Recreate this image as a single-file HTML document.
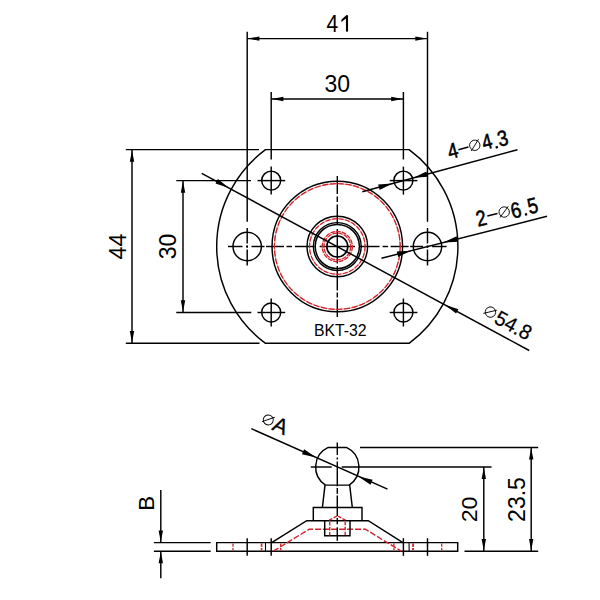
<!DOCTYPE html>
<html><head><meta charset="utf-8"><style>
html,body{margin:0;padding:0;background:#fff;width:600px;height:600px;overflow:hidden}
svg{display:block}
</style></head><body>
<svg width="600" height="600" viewBox="0 0 600 600">
<rect width="600" height="600" fill="#fff"/>
<path d="M265.50,149.6 L409.10,149.6 A120.6,120.6 0 0 1 409.37,343.2 L265.23,343.2 A120.6,120.6 0 0 1 265.50,149.6 Z" fill="none" stroke="#000" stroke-width="1.45"/>
<circle cx="271.20" cy="180.60" r="9.50" fill="none" stroke="#000" stroke-width="1.45"/>
<line x1="257.50" y1="180.60" x2="285.20" y2="180.60" stroke="#000" stroke-width="1.45"/>
<line x1="271.20" y1="166.60" x2="271.20" y2="194.60" stroke="#000" stroke-width="1.45"/>
<circle cx="271.20" cy="312.50" r="9.50" fill="none" stroke="#000" stroke-width="1.45"/>
<line x1="257.50" y1="312.50" x2="285.20" y2="312.50" stroke="#000" stroke-width="1.45"/>
<line x1="271.20" y1="298.50" x2="271.20" y2="326.50" stroke="#000" stroke-width="1.45"/>
<circle cx="403.40" cy="180.60" r="9.50" fill="none" stroke="#000" stroke-width="1.45"/>
<line x1="389.70" y1="180.60" x2="417.40" y2="180.60" stroke="#000" stroke-width="1.45"/>
<line x1="403.40" y1="166.60" x2="403.40" y2="194.60" stroke="#000" stroke-width="1.45"/>
<circle cx="403.40" cy="312.50" r="9.50" fill="none" stroke="#000" stroke-width="1.45"/>
<line x1="389.70" y1="312.50" x2="417.40" y2="312.50" stroke="#000" stroke-width="1.45"/>
<line x1="403.40" y1="298.50" x2="403.40" y2="326.50" stroke="#000" stroke-width="1.45"/>
<circle cx="247.20" cy="246.50" r="14.20" fill="none" stroke="#000" stroke-width="1.45"/>
<circle cx="427.50" cy="246.50" r="14.20" fill="none" stroke="#000" stroke-width="1.45"/>
<line x1="247.20" y1="31.80" x2="247.20" y2="221.80" stroke="#000" stroke-width="1.45"/>
<line x1="427.50" y1="31.80" x2="427.50" y2="221.80" stroke="#000" stroke-width="1.45"/>
<line x1="247.20" y1="38.60" x2="427.50" y2="38.60" stroke="#000" stroke-width="1.45"/>
<polygon points="247.90,38.60 259.40,40.80 259.40,36.40" fill="#000"/>
<polygon points="426.80,38.60 415.30,36.40 415.30,40.80" fill="#000"/>
<text transform="translate(326.60,31.60) rotate(0) translate(0.00,0.00) scale(0.9,1)" font-family="Liberation Sans" font-size="23.3" text-anchor="start" fill="#000">4</text>
<line x1="347.00" y1="15.40" x2="347.00" y2="31.60" stroke="#000" stroke-width="2.1"/>
<polygon points="348.05,15.40 345.95,15.40 341.40,19.80 341.40,22.00 345.95,18.60" fill="#000"/>
<line x1="271.20" y1="92.00" x2="271.20" y2="159.50" stroke="#000" stroke-width="1.45"/>
<line x1="403.40" y1="92.00" x2="403.40" y2="159.50" stroke="#000" stroke-width="1.45"/>
<line x1="271.20" y1="99.00" x2="403.40" y2="99.00" stroke="#000" stroke-width="1.45"/>
<polygon points="271.90,99.00 283.40,101.20 283.40,96.80" fill="#000"/>
<polygon points="402.70,99.00 391.20,96.80 391.20,101.20" fill="#000"/>
<text transform="translate(337.30,92.20) rotate(0)" font-family="Liberation Sans" font-size="23" text-anchor="middle" fill="#000">30</text>
<line x1="125.80" y1="149.60" x2="259.00" y2="149.60" stroke="#000" stroke-width="1.45"/>
<line x1="125.80" y1="343.20" x2="259.50" y2="343.20" stroke="#000" stroke-width="1.45"/>
<line x1="132.00" y1="149.60" x2="132.00" y2="343.20" stroke="#000" stroke-width="1.45"/>
<polygon points="132.00,150.30 129.80,161.80 134.20,161.80" fill="#000"/>
<polygon points="132.00,342.50 134.20,331.00 129.80,331.00" fill="#000"/>
<text transform="translate(125.80,246.50) rotate(-90)" font-family="Liberation Sans" font-size="23.5" text-anchor="middle" fill="#000">44</text>
<line x1="176.30" y1="180.60" x2="251.00" y2="180.60" stroke="#000" stroke-width="1.45"/>
<line x1="176.30" y1="312.50" x2="251.30" y2="312.50" stroke="#000" stroke-width="1.45"/>
<line x1="183.00" y1="180.60" x2="183.00" y2="312.50" stroke="#000" stroke-width="1.45"/>
<polygon points="183.00,181.30 180.80,192.80 185.20,192.80" fill="#000"/>
<polygon points="183.00,311.80 185.20,300.30 180.80,300.30" fill="#000"/>
<text transform="translate(176.10,246.50) rotate(-90)" font-family="Liberation Sans" font-size="23" text-anchor="middle" fill="#000">30</text>
<line x1="247.20" y1="228.00" x2="247.20" y2="243.50" stroke="#000" stroke-width="1.45"/>
<line x1="247.20" y1="245.50" x2="247.20" y2="247.80" stroke="#000" stroke-width="1.45"/>
<line x1="247.20" y1="249.50" x2="247.20" y2="265.50" stroke="#000" stroke-width="1.45"/>
<line x1="427.50" y1="228.00" x2="427.50" y2="243.50" stroke="#000" stroke-width="1.45"/>
<line x1="427.50" y1="245.50" x2="427.50" y2="247.80" stroke="#000" stroke-width="1.45"/>
<line x1="427.50" y1="249.50" x2="427.50" y2="265.50" stroke="#000" stroke-width="1.45"/>
<line x1="228.00" y1="246.50" x2="242.50" y2="246.50" stroke="#000" stroke-width="1.45"/>
<line x1="432.10" y1="246.50" x2="446.60" y2="246.50" stroke="#000" stroke-width="1.45"/>
<line x1="246.00" y1="246.50" x2="248.00" y2="246.50" stroke="#000" stroke-width="1.45"/>
<line x1="426.60" y1="246.50" x2="428.60" y2="246.50" stroke="#000" stroke-width="1.45"/>
<line x1="251.50" y1="246.50" x2="264.50" y2="246.50" stroke="#000" stroke-width="1.45"/>
<line x1="410.10" y1="246.50" x2="423.10" y2="246.50" stroke="#000" stroke-width="1.45"/>
<line x1="266.00" y1="246.50" x2="284.00" y2="246.50" stroke="#000" stroke-width="1.45"/>
<line x1="390.60" y1="246.50" x2="408.60" y2="246.50" stroke="#000" stroke-width="1.45"/>
<line x1="286.50" y1="246.50" x2="292.00" y2="246.50" stroke="#000" stroke-width="1.45"/>
<line x1="382.60" y1="246.50" x2="388.10" y2="246.50" stroke="#000" stroke-width="1.45"/>
<line x1="295.00" y1="246.50" x2="314.60" y2="246.50" stroke="#000" stroke-width="1.45"/>
<line x1="360.00" y1="246.50" x2="379.60" y2="246.50" stroke="#000" stroke-width="1.45"/>
<line x1="319.60" y1="246.50" x2="337.30" y2="246.50" stroke="#000" stroke-width="1.45"/>
<line x1="337.30" y1="246.50" x2="355.00" y2="246.50" stroke="#000" stroke-width="1.45"/>
<line x1="337.30" y1="176.00" x2="337.30" y2="194.00" stroke="#000" stroke-width="1.45"/>
<line x1="337.30" y1="196.50" x2="337.30" y2="202.00" stroke="#000" stroke-width="1.45"/>
<line x1="337.30" y1="204.50" x2="337.30" y2="225.00" stroke="#000" stroke-width="1.45"/>
<line x1="337.30" y1="229.00" x2="337.30" y2="263.50" stroke="#000" stroke-width="1.45"/>
<line x1="337.30" y1="266.00" x2="337.30" y2="290.50" stroke="#000" stroke-width="1.45"/>
<line x1="337.30" y1="292.50" x2="337.30" y2="297.50" stroke="#000" stroke-width="1.45"/>
<line x1="337.30" y1="299.50" x2="337.30" y2="317.00" stroke="#000" stroke-width="1.45"/>
<circle cx="337.30" cy="246.50" r="65.25" fill="none" stroke="#000" stroke-width="1.45"/>
<circle cx="337.30" cy="246.50" r="62.90" fill="none" stroke="#d02228" stroke-width="1.0" opacity="0.5"/>
<circle cx="337.30" cy="246.50" r="62.90" fill="none" stroke="#d02228" stroke-width="1.3" stroke-dasharray="6,1.8"/>
<circle cx="337.30" cy="246.50" r="30.30" fill="none" stroke="#000" stroke-width="1.45"/>
<circle cx="337.30" cy="246.50" r="27.80" fill="none" stroke="#d02228" stroke-width="0.9" opacity="0.55"/>
<circle cx="337.30" cy="246.50" r="27.80" fill="none" stroke="#d02228" stroke-width="1.2" stroke-dasharray="5,1.6"/>
<circle cx="337.30" cy="246.50" r="23.90" fill="none" stroke="#000" stroke-width="1.45"/>
<circle cx="337.30" cy="246.50" r="22.10" fill="none" stroke="#000" stroke-width="1.45"/>
<circle cx="337.30" cy="246.50" r="15.10" fill="none" stroke="#d02228" stroke-width="0.8" opacity="0.45"/>
<circle cx="337.30" cy="246.50" r="13.40" fill="none" stroke="#d02228" stroke-width="0.8" opacity="0.45"/>
<circle cx="337.30" cy="246.50" r="15.10" fill="none" stroke="#d02228" stroke-width="1.25" stroke-dasharray="4.5,1.3"/>
<circle cx="337.30" cy="246.50" r="13.40" fill="none" stroke="#d02228" stroke-width="1.25" stroke-dasharray="4.5,1.3"/>
<circle cx="337.30" cy="246.50" r="10.50" fill="none" stroke="#000" stroke-width="1.6"/>
<line x1="201.70" y1="173.30" x2="529.20" y2="350.50" stroke="#000" stroke-width="1.45"/>
<polygon points="229.03,187.92 217.91,179.06 215.53,183.46" fill="#000"/>
<polygon points="444.95,304.75 456.08,313.61 458.46,309.21" fill="#000"/>
<text transform="translate(494.00,322.60) rotate(28.6) translate(-0.90,0.30) scale(0.95,1)" font-family="Liberation Sans" font-size="20.8" text-anchor="start" fill="#000" stroke="#000" stroke-width="0.25">54.8</text>
<g transform="translate(494.00,322.60) rotate(28.6)"><circle cx="-8.14" cy="-7.52" r="5.2" fill="none" stroke="#000" stroke-width="0.85"/><line x1="-13.8" y1="-2.96" x2="-3.43" y2="-12.25" stroke="#000" stroke-width="0.85"/></g>
<line x1="362.30" y1="191.70" x2="517.50" y2="149.70" stroke="#000" stroke-width="1.45"/>
<polygon points="392.40,183.55 378.15,184.51 379.62,189.91" fill="#000"/>
<polygon points="413.60,177.82 427.85,176.86 426.38,171.46" fill="#000"/>
<text transform="translate(451.20,158.50) rotate(-15.1) translate(-1.60,0.30) scale(0.85,1)" font-family="Liberation Sans" font-size="21.6" text-anchor="start" fill="#000" stroke="#000" stroke-width="0.55">4</text>
<text transform="translate(451.20,158.50) rotate(-15.1) translate(34.00,0.30) scale(0.85,1)" font-family="Liberation Sans" font-size="21.3" text-anchor="start" fill="#000" stroke="#000" stroke-width="0.55">4</text>
<text transform="translate(451.20,158.50) rotate(-14.0) translate(49.70,0.30) scale(0.85,1)" font-family="Liberation Sans" font-size="21.8" text-anchor="start" fill="#000" stroke="#000" stroke-width="0.55">3</text>
<g transform="translate(451.20,158.50) rotate(-15.1)"><line x1="9.2" y1="-6.6" x2="19.6" y2="-6.6" stroke="#000" stroke-width="1.5"/></g>
<g transform="translate(451.20,158.50) rotate(-15.1)"><circle cx="26.2" cy="-6.6" r="5.2" fill="none" stroke="#000" stroke-width="0.85"/><line x1="21.3" y1="-2.0" x2="31.4" y2="-11.5" stroke="#000" stroke-width="0.85"/></g>
<g transform="translate(451.2,158.5) rotate(-15.1)"><rect x="45.8" y="-0.15" width="2.3" height="2.3" fill="#000"/></g>
<line x1="381.50" y1="258.20" x2="547.00" y2="216.30" stroke="#000" stroke-width="1.45"/>
<polygon points="411.00,250.73 396.74,251.45 398.12,256.88" fill="#000"/>
<polygon points="443.30,242.55 458.07,241.81 456.64,236.18" fill="#000"/>
<text transform="translate(479.60,226.00) rotate(-13.6) translate(-1.60,0.30) scale(0.83,1)" font-family="Liberation Sans" font-size="22" text-anchor="start" fill="#000" stroke="#000" stroke-width="0.55">2</text>
<text transform="translate(479.60,226.00) rotate(-13.6) translate(33.90,0.80) scale(0.83,1)" font-family="Liberation Sans" font-size="22" text-anchor="start" fill="#000" stroke="#000" stroke-width="0.55">6</text>
<text transform="translate(479.60,226.00) rotate(-13.6) translate(51.30,0.30) scale(0.83,1)" font-family="Liberation Sans" font-size="22" text-anchor="start" fill="#000" stroke="#000" stroke-width="0.55">5</text>
<g transform="translate(479.60,226.00) rotate(-13.6)"><line x1="9.85" y1="-7.9" x2="20.3" y2="-7.9" stroke="#000" stroke-width="1.5"/></g>
<g transform="translate(479.60,226.00) rotate(-13.6)"><circle cx="27.2" cy="-7.8" r="5.2" fill="none" stroke="#000" stroke-width="0.85"/><line x1="21.8" y1="-3.4" x2="32.5" y2="-12.4" stroke="#000" stroke-width="0.85"/></g>
<g transform="translate(479.6,226.0) rotate(-13.6)"><rect x="46.7" y="-1.5" width="2.3" height="2.3" fill="#000"/></g>
<text transform="translate(340.30,335.80) rotate(0)" font-family="Liberation Sans" font-size="15.8" text-anchor="middle" fill="#000">BKT-32</text>
<path d="M216.7,542.6 L457.7,542.6 L457.7,551.2 L216.7,551.2 Z" fill="none" stroke="#000" stroke-width="1.45"/>
<line x1="153.90" y1="542.60" x2="210.70" y2="542.60" stroke="#000" stroke-width="1.45"/>
<line x1="153.90" y1="551.20" x2="210.70" y2="551.20" stroke="#000" stroke-width="1.45"/>
<line x1="160.80" y1="490.00" x2="160.80" y2="542.60" stroke="#000" stroke-width="1.45"/>
<line x1="160.80" y1="551.20" x2="160.80" y2="578.20" stroke="#000" stroke-width="1.45"/>
<polygon points="160.80,542.10 163.00,530.60 158.60,530.60" fill="#000"/>
<polygon points="160.80,551.70 158.60,563.20 163.00,563.20" fill="#000"/>
<text transform="translate(154.20,503.40) rotate(-90)" font-family="Liberation Sans" font-size="22.3" text-anchor="middle" fill="#000">B</text>
<line x1="247.20" y1="538.20" x2="247.20" y2="555.80" stroke="#000" stroke-width="1.45"/>
<line x1="271.20" y1="538.20" x2="271.20" y2="555.80" stroke="#000" stroke-width="1.45"/>
<line x1="403.40" y1="538.20" x2="403.40" y2="555.80" stroke="#000" stroke-width="1.45"/>
<line x1="427.50" y1="538.20" x2="427.50" y2="555.80" stroke="#000" stroke-width="1.45"/>
<line x1="265.50" y1="542.60" x2="265.50" y2="551.20" stroke="#000" stroke-width="1.1"/>
<line x1="409.10" y1="542.60" x2="409.10" y2="551.20" stroke="#000" stroke-width="1.1"/>
<line x1="233.00" y1="543.60" x2="233.00" y2="550.20" stroke="#d02228" stroke-width="1.3" stroke-dasharray="3.2,1.2"/>
<line x1="261.40" y1="543.60" x2="261.40" y2="550.20" stroke="#d02228" stroke-width="1.3" stroke-dasharray="3.2,1.2"/>
<line x1="261.70" y1="543.60" x2="261.70" y2="550.20" stroke="#d02228" stroke-width="1.3" stroke-dasharray="3.2,1.2"/>
<line x1="280.70" y1="543.60" x2="280.70" y2="550.20" stroke="#d02228" stroke-width="1.3" stroke-dasharray="3.2,1.2"/>
<line x1="393.90" y1="543.60" x2="393.90" y2="550.20" stroke="#d02228" stroke-width="1.3" stroke-dasharray="3.2,1.2"/>
<line x1="412.90" y1="543.60" x2="412.90" y2="550.20" stroke="#d02228" stroke-width="1.3" stroke-dasharray="3.2,1.2"/>
<line x1="413.30" y1="543.60" x2="413.30" y2="550.20" stroke="#d02228" stroke-width="1.3" stroke-dasharray="3.2,1.2"/>
<line x1="441.70" y1="543.60" x2="441.70" y2="550.20" stroke="#d02228" stroke-width="1.3" stroke-dasharray="3.2,1.2"/>
<path d="M271.7,542.6 L306.7,520.7 L368.3,520.7 L402.9,542.6" fill="none" stroke="#000" stroke-width="1.45"/>
<path d="M273.3,551.2 L309.2,529.2 L365.4,529.2 L401.3,551.2" fill="none" stroke="#d02228" stroke-width="1.4" stroke-dasharray="6,2"/>
<path d="M313.3,520.7 L313.3,507.4 L362,507.4 L362,520.7" fill="none" stroke="#000" stroke-width="1.45"/>
<path d="M324.7,520.7 L324.7,535.8 L350,535.8 L350,520.7" fill="none" stroke="#000" stroke-width="1.45"/>
<path d="M329.7,535.5 L329.7,520 L337.4,515.8 L345.2,520 L345.2,535.5" fill="none" stroke="#d02228" stroke-width="1.4" stroke-dasharray="3.5,1.5"/>
<path d="M325,485.1 L322.4,507.4 M349.7,485.1 L352.3,507.4" fill="none" stroke="#000" stroke-width="1.45"/>
<path d="M328.22,447.4 L346.38,447.4 A21.6,21.6 0 0 1 349.09,485.1 L325.51,485.1 A21.6,21.6 0 0 1 328.22,447.4 Z" fill="none" stroke="#000" stroke-width="1.45"/>
<line x1="337.30" y1="442.50" x2="337.30" y2="455.00" stroke="#000" stroke-width="1.45"/>
<line x1="337.30" y1="457.50" x2="337.30" y2="459.50" stroke="#000" stroke-width="1.45"/>
<line x1="337.30" y1="461.50" x2="337.30" y2="486.30" stroke="#000" stroke-width="1.45"/>
<line x1="337.30" y1="488.00" x2="337.30" y2="493.80" stroke="#000" stroke-width="1.45"/>
<line x1="337.30" y1="495.50" x2="337.30" y2="516.00" stroke="#000" stroke-width="1.45"/>
<line x1="337.30" y1="518.00" x2="337.30" y2="524.30" stroke="#000" stroke-width="1.45"/>
<line x1="337.30" y1="527.30" x2="337.30" y2="540.80" stroke="#000" stroke-width="1.45"/>
<line x1="310.80" y1="467.00" x2="331.70" y2="467.00" stroke="#000" stroke-width="1.45"/>
<line x1="341.70" y1="467.00" x2="491.50" y2="467.00" stroke="#000" stroke-width="1.45"/>
<line x1="360.00" y1="447.40" x2="538.20" y2="447.40" stroke="#000" stroke-width="1.45"/>
<line x1="464.50" y1="551.20" x2="538.20" y2="551.20" stroke="#000" stroke-width="1.45"/>
<line x1="483.80" y1="467.00" x2="483.80" y2="551.20" stroke="#000" stroke-width="1.45"/>
<polygon points="483.80,467.60 481.60,479.10 486.00,479.10" fill="#000"/>
<polygon points="483.80,550.60 486.00,539.10 481.60,539.10" fill="#000"/>
<text transform="translate(476.80,509.40) rotate(-90) scale(1.03,1)" font-family="Liberation Sans" font-size="22.6" text-anchor="middle" fill="#000">20</text>
<line x1="531.20" y1="447.40" x2="531.20" y2="551.20" stroke="#000" stroke-width="1.45"/>
<polygon points="531.20,448.00 529.00,459.50 533.40,459.50" fill="#000"/>
<polygon points="531.20,550.60 533.40,539.10 529.00,539.10" fill="#000"/>
<text transform="translate(524.90,499.50) rotate(-90)" font-family="Liberation Sans" font-size="23" text-anchor="middle" fill="#000">23.5</text>
<line x1="251.30" y1="428.70" x2="387.50" y2="489.20" stroke="#000" stroke-width="1.45"/>
<polygon points="316.19,457.62 304.13,449.31 301.93,454.24" fill="#000"/>
<polygon points="358.41,476.38 370.47,484.69 372.67,479.76" fill="#000"/>
<text transform="translate(271.80,429.50) rotate(23.9) translate(-0.60,0.40) scale(1.0,1)" font-family="Liberation Sans" font-size="21.6" text-anchor="start" fill="#000" stroke="#000" stroke-width="0.3">A</text>
<g transform="translate(271.80,429.50) rotate(23.9)"><circle cx="-7.1" cy="-7.3" r="5.0" fill="none" stroke="#000" stroke-width="0.9"/><line x1="-12.1" y1="-3.2" x2="-2.3" y2="-12.4" stroke="#000" stroke-width="0.9"/></g>
</svg>
</body></html>
